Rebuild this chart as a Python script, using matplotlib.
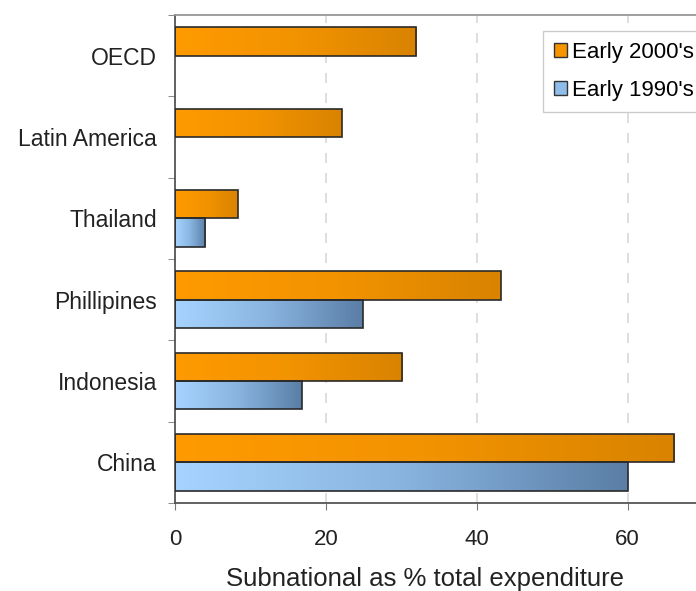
import numpy as np
import matplotlib.pyplot as plt
from matplotlib.colors import LinearSegmentedColormap
from matplotlib.patches import Patch

plt.rcParams['font.family'] = ['Liberation Sans', 'DejaVu Sans']

categories = ['OECD', 'Latin America', 'Thailand', 'Phillipines', 'Indonesia', 'China']
early_2000s = [32.0, 22.1, 8.3, 43.2, 30.1, 66.2]
early_1990s = [None, None, 4.0, 24.9, 16.8, 60.0]
xticks = [0, 20, 40, 60]

orange_cmap = LinearSegmentedColormap.from_list('o', ['#ff9a00', '#f29300', '#d98300'])
blue_cmap = LinearSegmentedColormap.from_list('b', ['#a6d3ff', '#89b4e0', '#5a7ea6'])

fig = plt.figure(figsize=(6.96, 5.91), dpi=100)
ax = fig.add_axes([175/696, 88/591, 528/696, 488/591])

n = len(categories)
ypos = np.arange(n)[::-1]  # OECD at top
h = 0.35

def grad_bar(y, v, cmap):
    bars = ax.barh(y, v, height=h, facecolor='none', edgecolor='#2a2a2a', lw=1.2, zorder=3)
    rect = bars[0]
    grad = np.linspace(0, 1, 256).reshape(1, -1)
    im = ax.imshow(grad, cmap=cmap, aspect='auto', extent=(0, v, y - h/2, y + h/2),
                   zorder=2, interpolation='bilinear')
    im.set_clip_path(rect)

for y, v in zip(ypos, early_2000s):
    grad_bar(y + h/2, v, orange_cmap)
for y, v in zip(ypos, early_1990s):
    if v is not None:
        grad_bar(y - h/2, v, blue_cmap)

ax.set_xlim(0, 70)
ax.set_ylim(-0.5, n - 0.5)
ax.set_xticks(xticks)
ax.set_xticklabels([str(t) for t in xticks], fontsize=16, color='#222222')
ax.set_yticks(ypos)
ax.set_yticklabels(categories, fontsize=16.5, color='#222222')
ax.tick_params(axis='y', length=0, pad=13)
ax.set_yticks(np.arange(-0.5, n, 1), minor=True)
ax.tick_params(axis='y', which='minor', length=5, color='#777777')
ax.tick_params(axis='x', length=5, color='#777777', pad=13.5)
ax.grid(axis='x', ls=(0, (6, 6)), color='#d8d8d8', lw=1.2, zorder=0)
ax.set_xlabel('Subnational as % total expenditure', fontsize=18.5, color='#222222')
ax.xaxis.set_label_coords(0.4735, -0.131)

ax.spines['left'].set_color('#555555')
ax.spines['bottom'].set_color('#555555')
ax.spines['top'].set_color('#999999')
ax.spines['left'].set_linewidth(1.3)
ax.spines['bottom'].set_linewidth(1.3)
ax.spines['top'].set_linewidth(1.3)

handles = [Patch(facecolor='#f59500', edgecolor='#333333', label="Early 2000's"),
           Patch(facecolor='#8dbde8', edgecolor='#333333', label="Early 1990's")]
leg = fig.legend(handles=handles, loc='upper left', bbox_to_anchor=(543/696, (591 - 31)/591),
                 fontsize=16, handlelength=0.6, handleheight=0.6, handletextpad=0.2,
                 labelspacing=0.75, borderpad=0.5, borderaxespad=0, fancybox=False, framealpha=1)
leg.get_frame().set_edgecolor('#cccccc')

fig.savefig('out.png', dpi=100)
